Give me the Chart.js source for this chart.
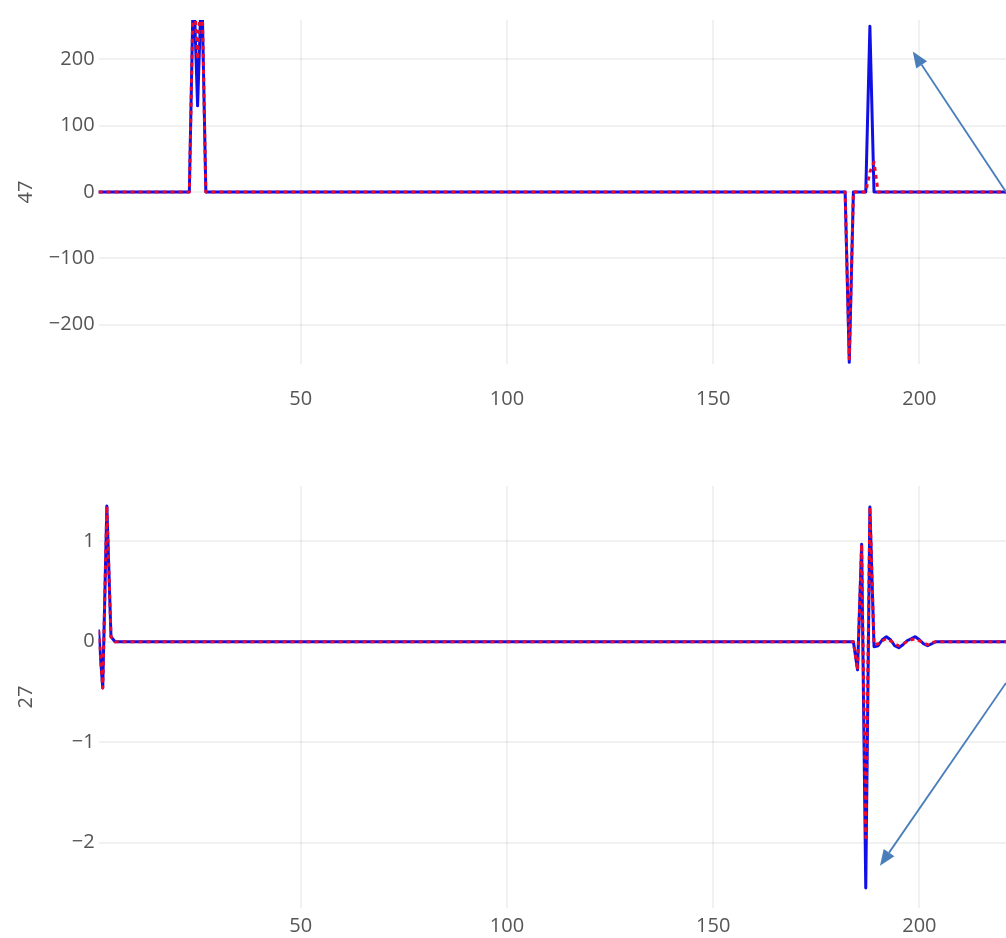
<!DOCTYPE html>
<html>
<head>
<meta charset="utf-8">
<title>Channel 47 / 27 traces</title>
<script src="https://cdn.jsdelivr.net/npm/chart.js@4.4.1/dist/chart.umd.min.js"></script>
<style>
  html, body { margin: 0; padding: 0; background: #ffffff; }
  .panel { position: absolute; left: 0; }
  #panelTop { top: 0; }
  #panelBottom { top: 470px; }
</style>
</head>
<body>
<div class="panel" id="panelTop"><canvas id="chart47" width="1006" height="470"></canvas></div>
<div class="panel" id="panelBottom"><canvas id="chart27" width="1006" height="468"></canvas></div>
<script>
// ---- Channel 47: sample index of each vertex, measured (blue) and reconstructed (red dotted)
const x47 = [1, 23, 24, 25, 26, 27, 182, 183, 184, 187, 188, 189, 190, 222];
const measured47 = [0, 0, 320, 130, 320, 0, 0, -257, 0, 0, 250, 0, 0, 0];
const rebuilt47  = [0, 0, 320, 200, 320, 0, 0, -252, 0, 0, 30, 45, 0, 0];
const ticks47 = [-200, -100, 0, 100, 200];

// ---- Channel 27
const x27 = [1, 2, 3, 4, 5, 184, 185, 186, 187, 188, 189, 190, 191, 192, 193, 194, 195, 196, 197, 198, 199, 200, 201, 202, 203, 204, 222];
const measured27 = [0.11, -0.46, 1.35, 0.05, 0, 0, -0.28, 0.97, -2.45, 1.34, -0.05, -0.04, 0.02, 0.05, 0.02, -0.04, -0.06, -0.03, 0.01, 0.03, 0.05, 0.02, -0.02, -0.04, -0.02, 0, 0];
const rebuilt27  = [0.11, -0.46, 1.35, 0.05, 0, 0, -0.28, 0.97, -1.95, 1.34, -0.03, -0.02, 0.01, 0.03, 0.01, -0.02, -0.04, -0.02, 0, 0.02, 0.03, 0.01, -0.01, -0.03, -0.01, 0, 0];
const ticks27 = [-2, -1, 0, 1];

const xTicks = [50, 100, 150, 200];

const BLUE = 'rgb(16, 16, 230)';
const RED = 'rgb(235, 10, 45)';
const GRID = 'rgba(0, 0, 0, 0.055)';
const TEXT = '#555555';
const FONT = '"Open Sans", "Liberation Sans", sans-serif';

function points(xs, ys) {
  return xs.map((x, i) => ({ x: x, y: ys[i] }));
}

function minusSign(v) {
  return String(v).replace('-', '\u2212');
}

// Call-out arrows, anchored in data units of the chart they sit on
const arrowNotes = {
  id: 'arrowNotes',
  afterDraw(chart, args, opts) {
    const list = (opts && opts.items) || [];
    const ctx = chart.ctx;
    const xs = chart.scales.x, ys = chart.scales.y;
    ctx.save();
    list.forEach(a => {
      const x0 = xs.getPixelForValue(a.from[0]), y0 = ys.getPixelForValue(a.from[1]);
      const x1 = xs.getPixelForValue(a.to[0]), y1 = ys.getPixelForValue(a.to[1]);
      const ang = Math.atan2(y1 - y0, x1 - x0);
      const len = 16, half = 6.5;
      const bx = x1 - Math.cos(ang) * len, by = y1 - Math.sin(ang) * len;
      ctx.strokeStyle = '#4a7ebb';
      ctx.fillStyle = '#4a7ebb';
      ctx.lineWidth = 1.8;
      ctx.beginPath();
      ctx.moveTo(x0, y0);
      ctx.lineTo(bx, by);
      ctx.stroke();
      ctx.beginPath();
      ctx.moveTo(x1, y1);
      ctx.lineTo(bx + Math.sin(ang) * half, by - Math.cos(ang) * half);
      ctx.lineTo(bx - Math.sin(ang) * half, by + Math.cos(ang) * half);
      ctx.closePath();
      ctx.fill();
    });
    ctx.restore();
  }
};

function makeChart(canvasId, cfg) {
  return new Chart(document.getElementById(canvasId), {
    type: 'line',
    data: {
      datasets: [
        {
          label: 'reconstructed',
          data: points(cfg.xs, cfg.rebuilt),
          borderColor: RED,
          borderWidth: 3,
          borderDash: [4, 4],
          pointRadius: 0,
          tension: 0,
          borderJoinStyle: 'round',
          order: 0
        },
        {
          label: 'measured',
          data: points(cfg.xs, cfg.measured),
          borderColor: BLUE,
          borderWidth: 3,
          pointRadius: 0,
          tension: 0,
          borderJoinStyle: 'round',
          borderCapStyle: 'round',
          order: 1
        }
      ]
    },
    options: {
      responsive: false,
      animation: false,
      events: [],
      layout: { padding: { left: 0, right: 0, top: cfg.padTop, bottom: 0 } },
      plugins: {
        legend: { display: false },
        tooltip: { enabled: false },
        arrowNotes: { items: cfg.arrows }
      },
      scales: {
        x: {
          type: 'linear',
          min: 1,
          max: 221,
          afterFit: s => { s.height = cfg.xHeight; },
          afterBuildTicks: s => { s.ticks = xTicks.map(v => ({ value: v })); },
          grid: { color: GRID, lineWidth: 2, drawTicks: false },
          border: { display: false },
          ticks: {
            padding: cfg.xPad,
            color: TEXT,
            font: { family: FONT, size: 20 },
            maxRotation: 0,
            callback: minusSign
          }
        },
        y: {
          type: 'linear',
          min: cfg.yMin,
          max: cfg.yMax,
          afterFit: s => { s.width = 98.6; },
          afterBuildTicks: s => { s.ticks = cfg.yTicks.map(v => ({ value: v })); },
          grid: { color: GRID, lineWidth: 2, drawTicks: false },
          border: { display: false },
          ticks: {
            padding: 4,
            color: TEXT,
            font: { family: FONT, size: 20 },
            callback: minusSign
          },
          title: {
            display: true,
            text: cfg.title,
            color: TEXT,
            font: { family: FONT, size: 20 },
            padding: { top: 14, bottom: 0 }
          }
        }
      }
    },
    plugins: [arrowNotes]
  });
}

makeChart('chart47', {
  xs: x47, measured: measured47, rebuilt: rebuilt47,
  yMin: -259.5, yMax: 259.5, yTicks: ticks47,
  title: '47', padTop: 20, xHeight: 106, xPad: 23,
  arrows: [{ from: [221, 0], to: [198.4, 212] }]
});

makeChart('chart27', {
  xs: x27, measured: measured27, rebuilt: rebuilt27,
  yMin: -2.65, yMax: 1.55, yTicks: ticks27,
  title: '27', padTop: 11, xHeight: 30, xPad: 6,
  arrows: [{ from: [221, -0.41], to: [190.45, -2.23] }]
});
</script>
</body>
</html>
